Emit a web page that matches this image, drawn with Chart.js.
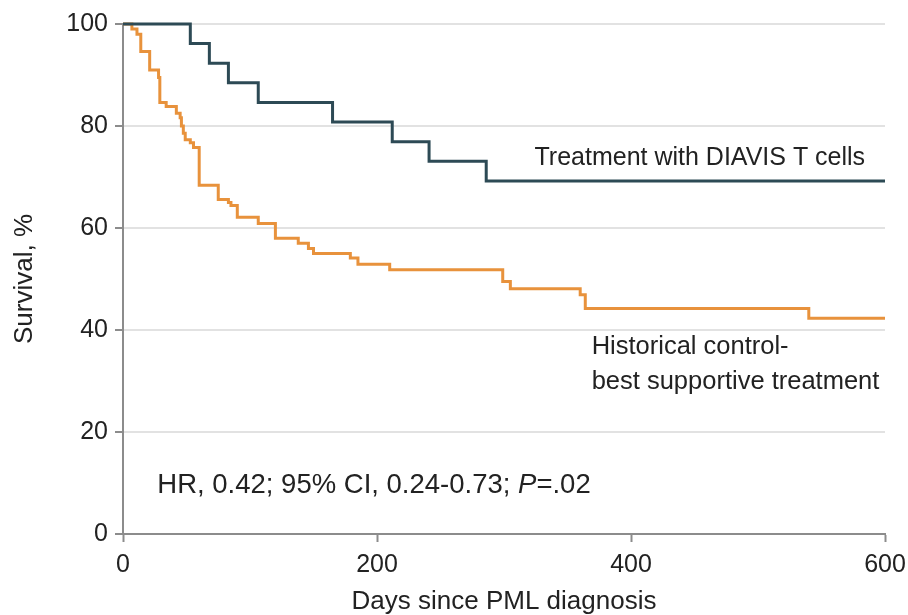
<!DOCTYPE html>
<html>
<head>
<meta charset="utf-8">
<script src="https://cdn.jsdelivr.net/npm/chart.js@4.4.1/dist/chart.umd.min.js"></script>
<style>
  html, body { margin: 0; padding: 0; background: #fff; }
  #wrap { position: relative; width: 908px; height: 615px; }
</style>
</head>
<body>
<div id="wrap"><canvas id="km"></canvas></div>
<script>
// Kaplan-Meier steps (day, survival %)
const treatDays = [0, 53, 68, 83, 106.5, 165, 212, 241, 286, 600];
const treatSurv = [100, 96.2, 92.3, 88.5, 84.6, 80.8, 76.9, 73.1, 69.2, 69.2];

const controlDays = [0, 7, 11, 14, 21, 28, 29, 34, 42, 45, 46, 47.5, 49, 53, 55.5, 60,
  75, 83, 85, 90, 106.5, 120, 138, 146, 150, 179, 185, 210, 299, 305, 360, 364, 540, 600];
const controlSurv = [100, 99, 98, 94.6, 91, 89.5, 84.6, 83.8, 82.5, 81.6, 80, 78.6, 77.3, 76.7, 75.8, 68.4,
  65.6, 65, 64.4, 62.1, 60.9, 58, 57, 56, 55, 54.1, 52.9, 51.8, 49.5, 48.1, 46.9, 44.2, 42.3, 42.3];

const xTicks = [0, 200, 400, 600];
const yTicks = [0, 20, 40, 60, 80, 100];

const FONT = "'Liberation Sans', Arial, sans-serif";
const TEXT = '#222';
const AXIS = '#8c8c8c';

const toPoints = (xs, ys) => xs.map((x, i) => ({ x, y: ys[i] }));

// annotations drawn on top of the plot
const labelsPlugin = {
  id: 'kmLabels',
  afterDatasetsDraw(chart) {
    const { ctx } = chart;
    const x = chart.scales.x, y = chart.scales.y;
    ctx.save();
    ctx.fillStyle = TEXT;
    ctx.textBaseline = 'middle';
    ctx.textAlign = 'left';
    ctx.font = `25px ${FONT}`;
    ctx.fillText('Treatment with DIAVIS T cells', x.getPixelForValue(324), y.getPixelForValue(73.7));
    ctx.font = `25.5px ${FONT}`;
    ctx.fillText('Historical control-', x.getPixelForValue(369), y.getPixelForValue(36.7));
    ctx.fillText('best supportive treatment', x.getPixelForValue(369), y.getPixelForValue(29.9));

    // HR line with italic P
    ctx.font = `27.5px ${FONT}`;
    let px = x.getPixelForValue(27);
    const py = y.getPixelForValue(9.6);
    const a = 'HR, 0.42; 95% CI, 0.24-0.73; ';
    ctx.fillText(a, px, py);
    px += ctx.measureText(a).width;
    ctx.font = `italic 27.5px ${FONT}`;
    ctx.fillText('P', px, py);
    px += ctx.measureText('P').width;
    ctx.font = `27.5px ${FONT}`;
    ctx.fillText('=.02', px, py);
    ctx.restore();
  }
};

new Chart(document.getElementById('km'), {
  type: 'line',
  data: {
    datasets: [
      {
        label: 'Treatment with DIAVIS T cells',
        data: toPoints(treatDays, treatSurv),
        borderColor: '#2d4a55',
        borderWidth: 3,
        stepped: 'before',
        pointRadius: 0,
        fill: false,
        clip: false
      },
      {
        label: 'Historical control-best supportive treatment',
        data: toPoints(controlDays, controlSurv),
        borderColor: '#e8923c',
        borderWidth: 3,
        stepped: 'before',
        pointRadius: 0,
        fill: false,
        clip: false
      }
    ]
  },
  options: {
    responsive: true,
    maintainAspectRatio: false,
    animation: false,
    layout: { padding: { top: 24, right: 23, left: 0, bottom: 0 } },
    plugins: {
      legend: { display: false },
      tooltip: { enabled: false }
    },
    scales: {
      x: {
        type: 'linear',
        min: 0,
        max: 600,
        afterBuildTicks: s => { s.ticks = xTicks.map(v => ({ value: v })); },
        afterFit: s => { s.height = 81; s.paddingLeft = 0; s.paddingRight = 0; },
        grid: { drawOnChartArea: false, tickLength: 8, tickColor: AXIS, tickWidth: 2 },
        border: { color: AXIS, width: 2 },
        ticks: { color: TEXT, font: { family: FONT, size: 25 }, padding: 8, maxRotation: 0 },
        title: {
          display: true,
          text: 'Days since PML diagnosis',
          color: TEXT,
          font: { family: FONT, size: 26, lineHeight: 1 },
          padding: { top: 0, bottom: 0 }
        }
      },
      y: {
        type: 'linear',
        min: 0,
        max: 100,
        afterBuildTicks: s => { s.ticks = yTicks.map(v => ({ value: v })); },
        afterFit: s => { s.width = 123; s.paddingTop = 0; s.paddingBottom = 0; },
        grid: { color: '#e2e2e2', lineWidth: 2, tickLength: 8, tickColor: AXIS, tickWidth: 2 },
        border: { color: AXIS, width: 2 },
        ticks: { color: TEXT, font: { family: FONT, size: 25 }, padding: 7 },
        title: {
          display: true,
          text: 'Survival, %',
          color: TEXT,
          font: { family: FONT, size: 26, lineHeight: 1 },
          padding: { top: 12, bottom: 0 }
        }
      }
    }
  },
  plugins: [labelsPlugin]
});
</script>
</body>
</html>
